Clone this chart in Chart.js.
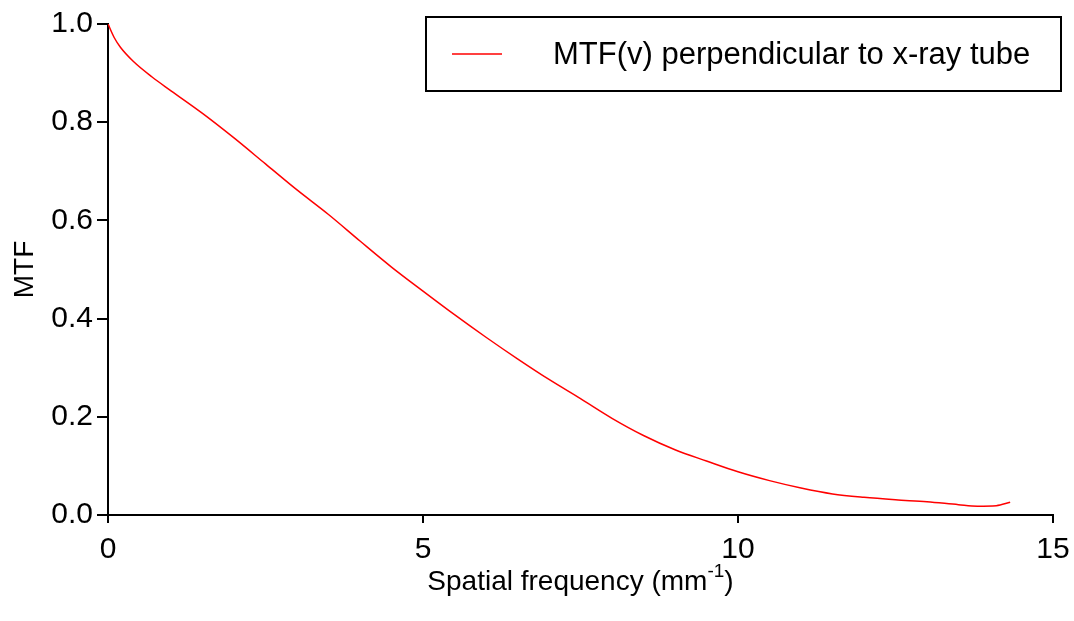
<!DOCTYPE html>
<html>
<head>
<meta charset="utf-8">
<script src="https://cdn.jsdelivr.net/npm/chart.js@4.4.0/dist/chart.umd.min.js"></script>
<style>
  html, body { margin: 0; padding: 0; background: #fff; }
  #wrap { width: 1074px; height: 621px; }
</style>
</head>
<body>
<div id="wrap"><canvas id="mtfChart"></canvas></div>
<script>
// Spatial frequency (mm^-1) and MTF values
const freq = [0, 0.1, 0.2, 0.4, 0.7, 1.0, 1.5, 2.0, 2.5, 3.0, 3.5, 4.0, 4.5, 5.0, 5.5, 6.0, 6.5,
  7.0, 7.5, 8.0, 8.5, 9.0, 9.5, 10.0, 10.5, 11.0, 11.5, 12.0, 12.5, 13.0, 13.5, 13.8, 14.1, 14.32];
const mtf = [1.0, 0.972, 0.952, 0.924, 0.892, 0.864, 0.818, 0.768, 0.715, 0.662, 0.612, 0.558, 0.505,
  0.456, 0.408, 0.362, 0.318, 0.276, 0.237, 0.197, 0.162, 0.133, 0.11, 0.088, 0.07, 0.055, 0.043,
  0.036, 0.031, 0.027, 0.021, 0.018, 0.019, 0.026];
const xTicks = [0, 5, 10, 15];
const yTicks = [0.0, 0.2, 0.4, 0.6, 0.8, 1.0];
const seriesLabel = 'MTF(v) perpendicular to x-ray tube';

const FONT = 'Liberation Sans, Arial, sans-serif';

// boxed legend in the top right, like the original
const boxLegend = {
  id: 'boxLegend',
  afterDraw(chart) {
    const ctx = chart.ctx;
    const area = chart.chartArea;
    const x0 = area.left + 318, y0 = area.top - 7;
    const w = 635, h = 74;
    ctx.save();
    ctx.strokeStyle = '#000';
    ctx.lineWidth = 2;
    ctx.strokeRect(x0, y0, w, h);
    ctx.strokeStyle = '#ff0000';
    ctx.lineWidth = 1.5;
    ctx.beginPath();
    ctx.moveTo(x0 + 26, y0 + h / 2);
    ctx.lineTo(x0 + 76, y0 + h / 2);
    ctx.stroke();
    ctx.fillStyle = '#000';
    ctx.font = '31px ' + FONT;
    ctx.textBaseline = 'middle';
    ctx.fillText(seriesLabel, x0 + 127, y0 + h / 2 + 1);
    ctx.restore();
  }
};

// x axis title with a superscript
const xTitle = {
  id: 'xTitle',
  afterDraw(chart) {
    const ctx = chart.ctx;
    const area = chart.chartArea;
    const main = 'Spatial frequency (mm';
    const sup = '-1';
    const end = ')';
    ctx.save();
    ctx.fillStyle = '#000';
    ctx.textBaseline = 'alphabetic';
    ctx.font = '28px ' + FONT;
    const w1 = ctx.measureText(main).width;
    const w3 = ctx.measureText(end).width;
    ctx.font = '19px ' + FONT;
    const w2 = ctx.measureText(sup).width;
    const total = w1 + w2 + w3;
    let x = (area.left + area.right) / 2 - total / 2;
    const y = area.bottom + 75;
    ctx.font = '28px ' + FONT;
    ctx.fillText(main, x, y);
    x += w1;
    ctx.font = '19px ' + FONT;
    ctx.fillText(sup, x, y - 13);
    x += w2;
    ctx.font = '28px ' + FONT;
    ctx.fillText(end, x, y);
    ctx.restore();
  }
};

const points = freq.map((f, i) => ({ x: f, y: mtf[i] }));

new Chart(document.getElementById('mtfChart'), {
  type: 'scatter',
  data: {
    datasets: [{
      label: seriesLabel,
      data: points,
      showLine: true,
      borderColor: '#ff0000',
      borderWidth: 1.5,
      pointRadius: 0,
      tension: 0.4,
      cubicInterpolationMode: 'monotone'
    }]
  },
  options: {
    responsive: true,
    maintainAspectRatio: false,
    animation: false,
    layout: { padding: { top: 24, right: 21, left: 0, bottom: 0 } },
    plugins: {
      legend: { display: false },
      tooltip: { enabled: false }
    },
    scales: {
      x: {
        type: 'linear',
        min: 0,
        max: 15,
        afterBuildTicks: scale => { scale.ticks = xTicks.map(v => ({ value: v })); },
        afterFit: scale => { scale.height = 106; scale.paddingRight = 0; },
        grid: { drawOnChartArea: false, drawTicks: true, tickLength: 8, color: '#000', lineWidth: 2 },
        border: { color: '#000', width: 2 },
        ticks: { color: '#000', font: { family: FONT, size: 30 }, padding: 9, maxRotation: 0 }
      },
      y: {
        min: 0,
        max: 1,
        afterBuildTicks: scale => { scale.ticks = yTicks.map(v => ({ value: v })); },
        afterFit: scale => { scale.width = 108; },
        grid: { drawOnChartArea: false, drawTicks: true, tickLength: 11, color: '#000', lineWidth: 2 },
        border: { color: '#000', width: 2 },
        ticks: {
          color: '#000',
          font: { family: FONT, size: 30 },
          padding: 4,
          callback: v => v.toFixed(1)
        },
        title: {
          display: true,
          text: 'MTF',
          color: '#000',
          font: { family: FONT, size: 28 },
          padding: { top: 8, bottom: 0 }
        }
      }
    }
  },
  plugins: [boxLegend, xTitle]
});
</script>
</body>
</html>
